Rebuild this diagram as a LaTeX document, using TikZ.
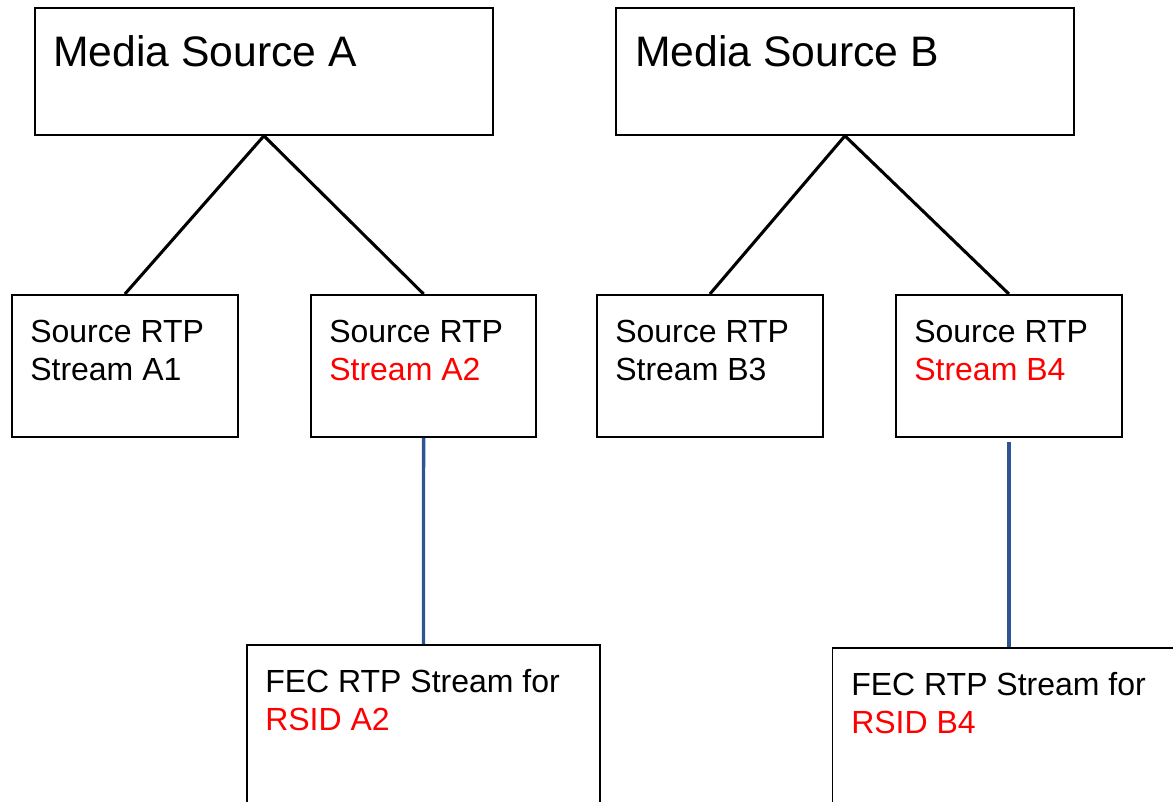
\documentclass[tikz,border=0pt]{standalone}
\usepackage{fontspec}
\setmainfont{Liberation Sans}
\usepackage{xcolor}

\definecolor{fecblue}{RGB}{47,84,150}
\definecolor{rsidred}{RGB}{255,0,0}

\tikzset{
  box/.style={draw, line width=1.4pt, inner sep=0pt, anchor=north west},
  title/.style={anchor=north west, inner sep=0pt, font=\fontsize{32}{38}\selectfont},
  label/.style={anchor=north west, inner sep=0pt, align=left, font=\fontsize{24}{28.5}\selectfont},
  link/.style={line width=2.3pt},
  fec/.style={line width=2.5pt, color=fecblue}
}

\begin{document}
\begin{tikzpicture}[x=0.75pt,y=0.75pt,yscale=-1,xscale=1]

\clip (0,0) rectangle (1173,802);
\useasboundingbox (0,0) rectangle (1173,802);

% media sources
\node [box, minimum width=343.5pt, minimum height=95.25pt] (srcA) at (34,7) {};
\node [box, minimum width=343.5pt, minimum height=95.25pt] (srcB) at (615,7) {};

% source rtp streams
\node [box, minimum width=169.5pt, minimum height=106.5pt] (strA1) at (11,294) {};
\node [box, minimum width=169pt, minimum height=106.5pt] (strA2) at (310,294) {};
\node [box, minimum width=169.5pt, minimum height=106.5pt] (strB3) at (596,294) {};
\node [box, minimum width=169.5pt, minimum height=106.5pt] (strB4) at (895,294) {};

% fec streams
\node [box, minimum width=264.75pt, minimum height=150pt] (fecA2) at (246,644) {};
\node [box, minimum width=264.75pt, minimum height=150pt] (fecB4) at (831.5,647) {};

\draw [link] (srcA.south) -- (strA1.north) ;
\draw [link] (srcA.south) -- (strA2.north) ;
\draw [link] (srcB.south) -- (strB3.north) ;
\draw [link] (srcB.south) -- (strB4.north) ;

\draw [fec] (strA2.south) -- (fecA2.north) ;
\draw [fec, shorten <=3pt] (strB4.south) -- (fecB4.north) ;

\node [title] (tSrcA) at (53,35) {Media Source A};
\node [title] (tSrcB) at (635,35) {Media Source B};
\node [label] (tA1) at (30,320) {Source RTP\\Stream A1};
\node [label] (tA2) at (329,320) {Source RTP\\\textcolor{rsidred}{Stream A2}};
\node [label] (tB3) at (615,320) {Source RTP\\Stream B3};
\node [label] (tB4) at (914,320) {Source RTP\\\textcolor{rsidred}{Stream B4}};
\node [label] (tFecA2) at (265,669) {FEC RTP Stream for\\\textcolor{rsidred}{RSID A2}};
\node [label] (tFecB4) at (851,672) {FEC RTP Stream for\\\textcolor{rsidred}{RSID B4}};

\end{tikzpicture}
\end{document}
